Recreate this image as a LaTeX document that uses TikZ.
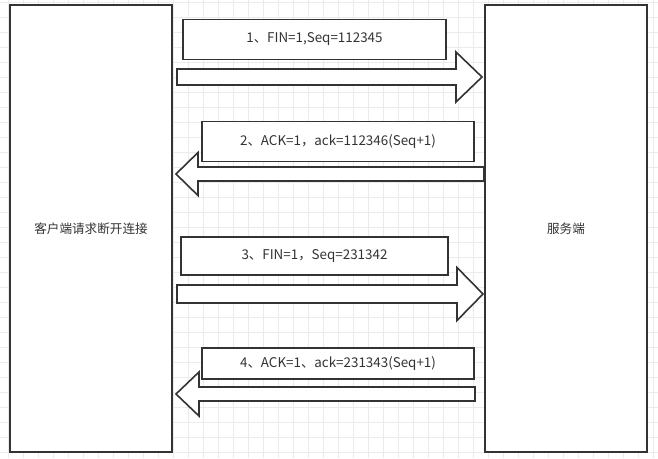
\documentclass[tikz,border=0pt]{standalone}
\usepackage{fontspec}
\setmainfont{Noto Sans CJK SC}
\usetikzlibrary{positioning}

\definecolor{linegray}{HTML}{333333}
\definecolor{textgray}{HTML}{333333}
\definecolor{gridgray}{HTML}{EBEBEB}

% block arrow: tail x, neck x, tip x, centre y, body half, head half
\newcommand{\blockarrow}[6]{%
  \draw[blockarr] (#1,#4-#5) -- (#2,#4-#5) -- (#2,#4-#6) -- (#3,#4)
    -- (#2,#4+#6) -- (#2,#4+#5) -- (#1,#4+#5) -- cycle;}

\begin{document}
\begin{tikzpicture}[
  x=1pt, y=-1pt,
  gridline/.style={draw=gridgray, line width=0.6pt},
  side/.style={draw=linegray, line width=2pt, fill=white, minimum width=162pt, minimum height=447pt, text=textgray, font=\fontsize{12.6}{14}\selectfont},
  msg/.style={draw=linegray, line width=1.9pt, fill=white, minimum height=40pt, text=textgray, font=\fontsize{13.4}{15}\selectfont},
  blockarr/.style={draw=linegray, line width=1.6pt, fill=white, line join=miter}
]
\useasboundingbox (0,0) rectangle (658,458);
\fill[white] (0,0) rectangle (658,458);
\foreach \gx in {8,23,...,653} \draw[gridline] (\gx,0) -- (\gx,458);
\foreach \gy in {2.7,17.7,...,452.7} \draw[gridline] (0,\gy) -- (658,\gy);

\node[side] (client) at (91,228.5) {客户端请求断开连接};
\node[side] (server) at (566,228.5) {服务端};

\node[msg, minimum width=263pt] (fin1) at (314.5,39.5) {1、FIN=1,Seq=112345};
\node[msg, minimum width=272pt] (ack1) at (338,141.5) {2、ACK=1，ack=112346(Seq+1)};
\node[msg, minimum width=267pt, minimum height=38pt] (fin2) at (314.5,256) {3、FIN=1，Seq=231342};
\node[msg, minimum width=272pt, minimum height=31pt] (ack2) at (338,363.5) {4、ACK=1、ack=231343(Seq+1)};

\blockarrow{177}{456}{482}{77}{8}{25}
\blockarrow{484}{198}{176}{174}{7}{21.5}
\blockarrow{177}{457}{483}{294}{9}{26.5}
\blockarrow{475}{199}{176}{394}{7}{22}

\end{tikzpicture}
\end{document}
